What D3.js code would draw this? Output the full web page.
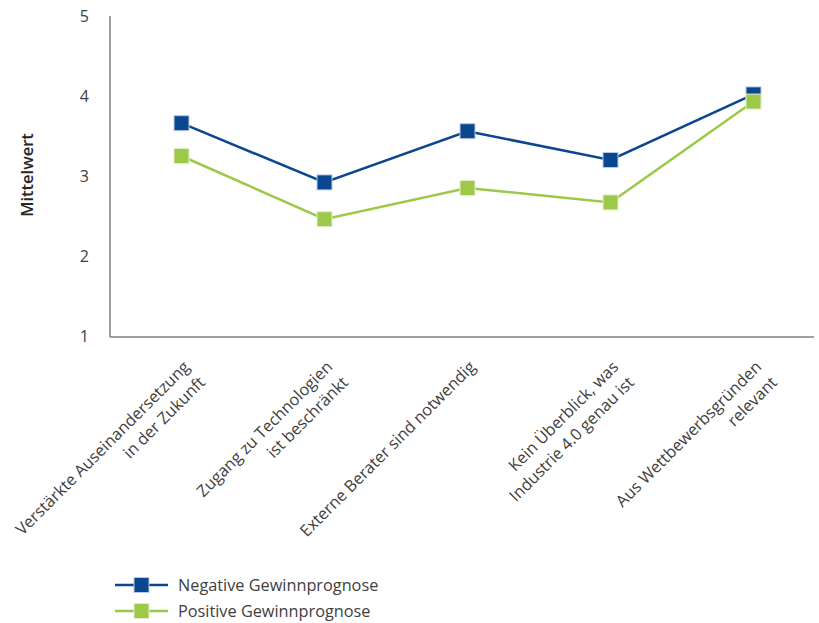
<!DOCTYPE html>
<html>
<head>
<meta charset="utf-8">
<script src="https://cdn.jsdelivr.net/npm/d3@7"></script>
<style>
  body { margin: 0; background: #fff; }
  text { font-family: "Open Sans", "Noto Sans", sans-serif; fill: #404040; }
</style>
</head>
<body>
<div id="chart"></div>
<script>
// ----- data -----
let categories = [
    ["Verstärkte Auseinandersetzung", "in der Zukunft"],
    ["Zugang zu Technologien", "ist beschränkt"],
    ["Externe Berater sind notwendig"],
    ["Kein Überblick, was", "Industrie 4.0 genau ist"],
    ["Aus Wettbewerbsgründen", "relevant"]
];
let negativeValues = [3.66, 2.92, 3.56, 3.20, 4.02];
let positiveValues = [3.25, 2.46, 2.85, 2.67, 3.93];
let yTicks = [1, 2, 3, 4, 5];
let seriesNames = ["Negative Gewinnprognose", "Positive Gewinnprognose"];
let seriesColors = ["#0a4790", "#9cc947"];

let svgWidth = 819;
let svgHeight = 623;

let svg = d3.select("#chart")
    .append("svg")
    .attr("width", svgWidth)
    .attr("height", svgHeight);

let x = d3.scaleBand()
    .domain(d3.range(categories.length))
    .range([110, 825]);

let y = d3.scaleLinear()
    .domain([1, 5])
    .range([336, 16]);

// ----- axes -----
let axisColor = "#7f7f7f";

svg.append("line")
    .attr("x1", 110).attr("x2", 110)
    .attr("y1", y(5)).attr("y2", y(1) + 1)
    .attr("stroke", axisColor).attr("stroke-width", 1.5);

svg.append("line")
    .attr("x1", 110).attr("x2", 814)
    .attr("y1", y(1) + 1).attr("y2", y(1) + 1)
    .attr("stroke", axisColor).attr("stroke-width", 1.5);

svg.selectAll(".ytick")
    .data(yTicks)
    .enter()
    .append("text")
    .attr("class", "ytick")
    .attr("x", 89)
    .attr("y", d => y(d))
    .attr("dy", "0.35em")
    .attr("text-anchor", "end")
    .style("font-size", "16px")
    .text(d => d);

svg.append("text")
    .attr("transform", "translate(33," + 175 + ") rotate(-90)")
    .attr("text-anchor", "middle")
    .style("font-size", "16.5px")
    .style("font-weight", "600")
    .style("fill", "#262626")
    .text("Mittelwert");

// category labels, rotated
let labels = svg.selectAll(".xlabel")
    .data(categories)
    .enter()
    .append("text")
    .attr("class", "xlabel")
    .attr("transform", (d, i) => "translate(" + (x(i) + x.bandwidth() / 2 + 9) + ",368) rotate(-45)")
    .attr("text-anchor", "end")
    .style("font-size", "16.3px");

labels.selectAll("tspan")
    .data(d => d)
    .enter()
    .append("tspan")
    .attr("x", 0)
    .attr("y", (d, i) => i * 22)
    .text(d => d);

// ----- lines -----
let line = d3.line()
    .x((d, i) => x(i) + x.bandwidth() / 2)
    .y(d => y(d));

let allSeries = [negativeValues, positiveValues];

allSeries.forEach((values, s) => {
    svg.append("path")
        .datum(values)
        .attr("fill", "none")
        .attr("stroke", seriesColors[s])
        .attr("stroke-width", 2.5)
        .attr("d", line);
});

allSeries.forEach((values, s) => {
    svg.selectAll(".marker" + s)
        .data(values)
        .enter()
        .append("rect")
        .attr("class", "marker" + s)
        .attr("x", (d, i) => x(i) + x.bandwidth() / 2 - 7.5)
        .attr("y", d => y(d) - 7.5)
        .attr("width", 15)
        .attr("height", 15)
        .attr("fill", seriesColors[s])
        .attr("stroke", s == 0 ? "#b9cbe3" : "#e3efcf")
        .attr("stroke-width", 1);
});

// ----- legend -----
let legend = svg.selectAll(".legend")
    .data(seriesNames)
    .enter()
    .append("g")
    .attr("class", "legend")
    .attr("transform", (d, i) => "translate(115," + (585 + i * 26) + ")");

legend.append("line")
    .attr("x1", 0).attr("x2", 53)
    .attr("stroke", (d, i) => seriesColors[i])
    .attr("stroke-width", 2.5);

legend.append("rect")
    .attr("x", 19).attr("y", -7.5)
    .attr("width", 15).attr("height", 15)
    .attr("fill", (d, i) => seriesColors[i])
    .attr("stroke", (d, i) => i == 0 ? "#b9cbe3" : "#e3efcf");

legend.append("text")
    .attr("x", 63)
    .attr("dy", "0.35em")
    .style("font-size", "16.3px")
    .text(d => d);
</script>
</body>
</html>
